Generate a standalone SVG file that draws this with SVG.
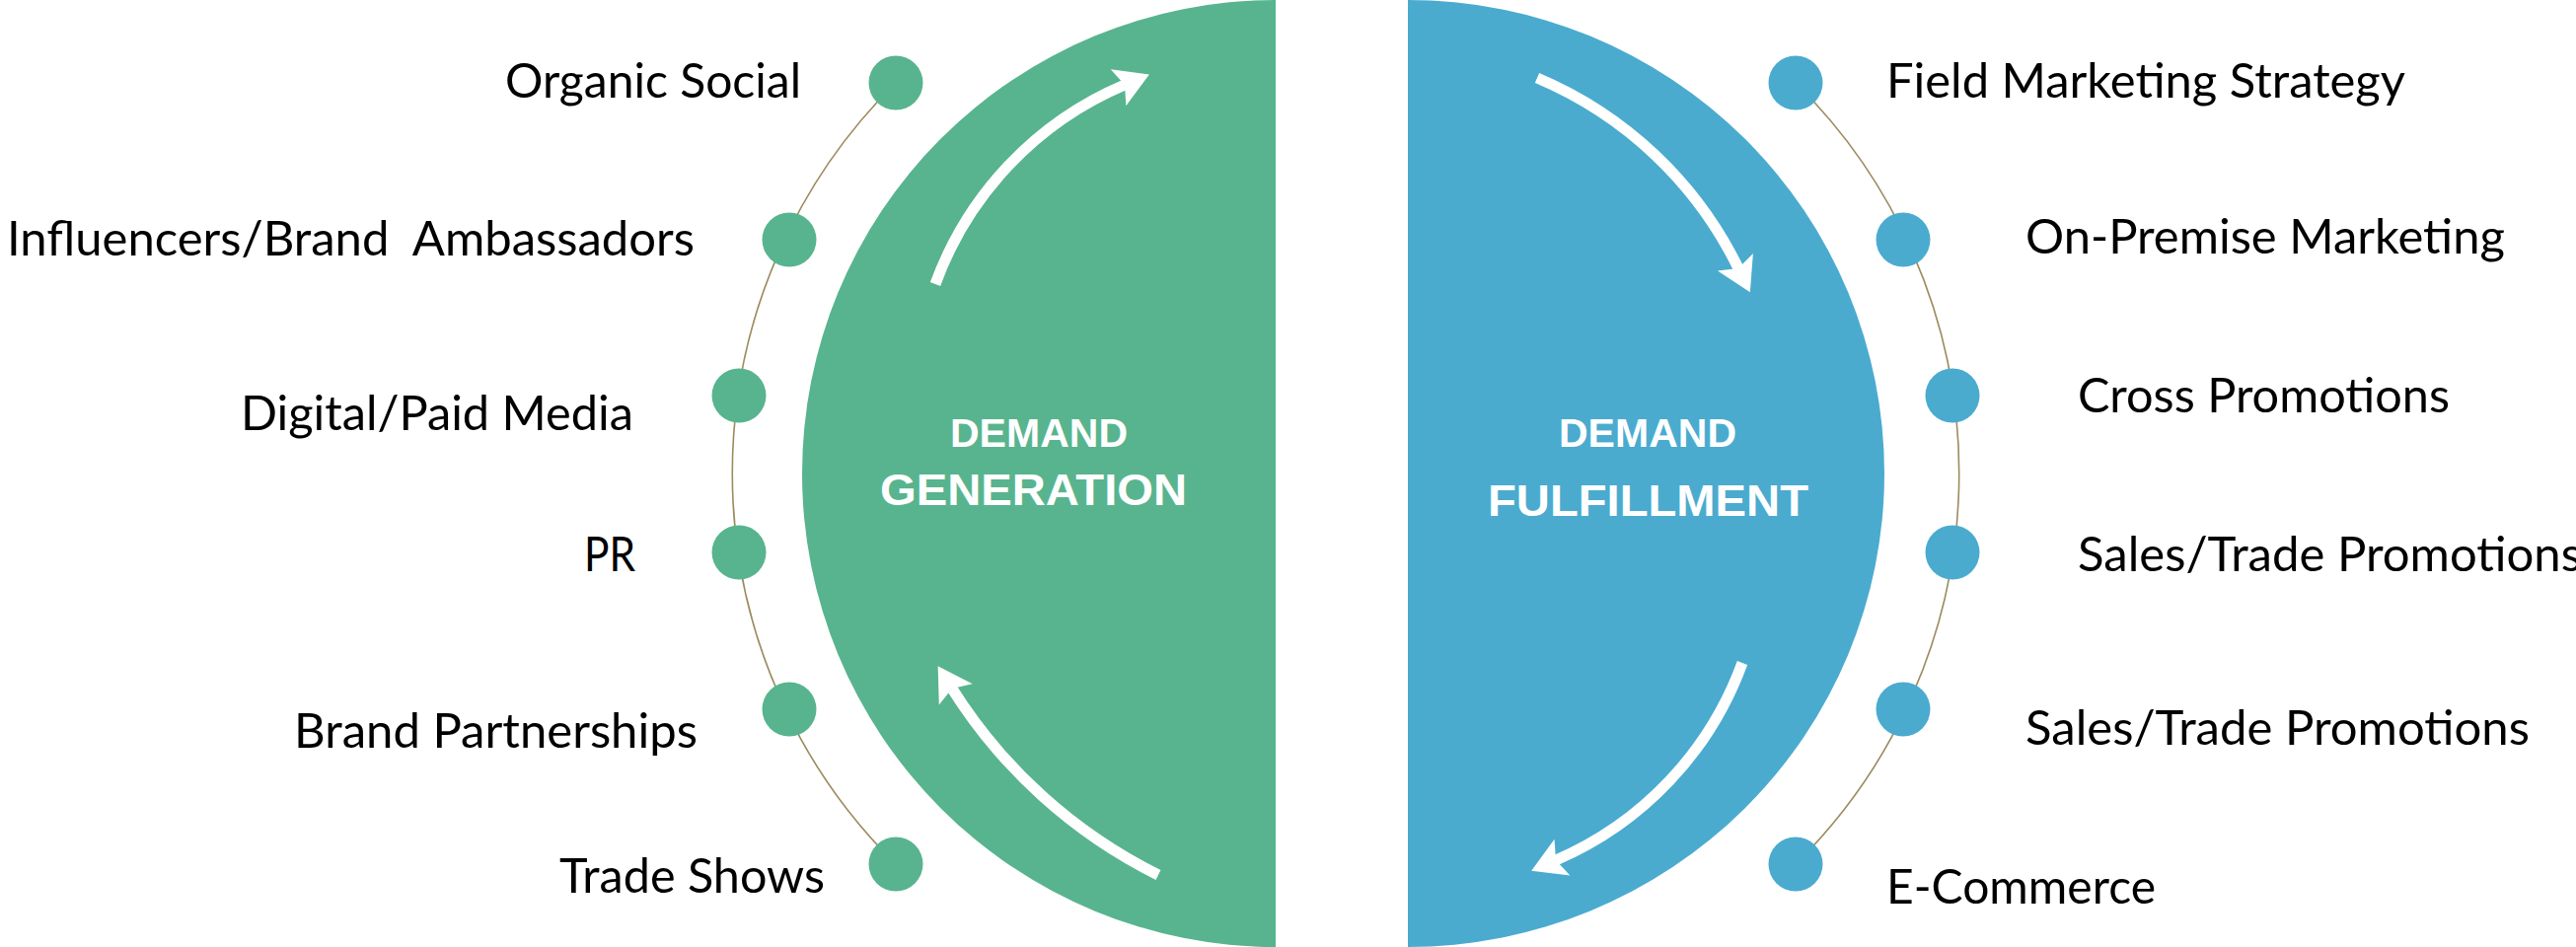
<svg xmlns="http://www.w3.org/2000/svg" width="2611" height="960" viewBox="0 0 2611 960">
<style>
.bg{fill:#ffffff}
.g{fill:#58B48E}
.b{fill:#4AABCF}
.track{fill:none;stroke:#9C8B5E;stroke-width:1.6}
.arr{fill:none;stroke:#ffffff;stroke-width:11}
.lbl{font-family:Lato,"Liberation Sans",sans-serif;font-size:49px;fill:#000000;white-space:pre}
.h1{font-family:"Liberation Sans",Arial,sans-serif;font-weight:bold;font-size:40px;fill:#ffffff}
.h2{font-family:"Liberation Sans",Arial,sans-serif;font-weight:bold;font-size:44px;fill:#ffffff}
</style>
<defs>
<marker id="head" markerUnits="userSpaceOnUse" viewBox="-10 -24 44 48" refX="0" refY="0" markerWidth="44" markerHeight="48" orient="auto">
<path d="M-7,-20 L27,0 L-7,20 L0,0 Z" fill="#ffffff"/>
</marker>
</defs>
<rect class="bg" x="0" y="0" width="2611" height="960"/>
<g id="demand-generation">
<path class="g" d="M1293,0 A480,480 0 0 0 1293,960 Z"/>
<text class="h1" x="963" y="453" textLength="180" lengthAdjust="spacingAndGlyphs">DEMAND</text>
<text class="h2" x="892" y="512" textLength="311" lengthAdjust="spacingAndGlyphs">GENERATION</text>
</g>
<g id="demand-fulfillment">
<path class="b" d="M1427,0 A483,480 0 0 1 1427,960 Z"/>
<text class="h1" x="1580" y="453" textLength="180" lengthAdjust="spacingAndGlyphs">DEMAND</text>
<text class="h2" x="1508" y="523" textLength="325" lengthAdjust="spacingAndGlyphs">FULFILLMENT</text>
</g>
<g id="connectors">
<path class="track" d="M908,84 A556,556 0 0 0 908,876"/>
<path class="track" d="M1820,84 A556,556 0 0 1 1820,876"/>
<path class="arr" marker-end="url(#head)" d="M948,288 A349,349 0 0 1 1140,86"/>
<path class="arr" marker-end="url(#head)" d="M1174,887 A520,520 0 0 1 965,698"/>
<path class="arr" marker-end="url(#head)" d="M1558,79 A400,400 0 0 1 1762,272"/>
<path class="arr" marker-end="url(#head)" d="M1766,672 A347,347 0 0 1 1577,872"/>
</g>
<g id="organic-social"><circle class="g" cx="908" cy="84" r="27.5"/><text class="lbl" x="512" y="99" textLength="300" lengthAdjust="spacingAndGlyphs">Organic Social</text></g>
<g id="influencers"><circle class="g" cx="800" cy="243" r="27.5"/><text class="lbl" x="7" y="259" textLength="697" lengthAdjust="spacingAndGlyphs">Influencers/Brand  Ambassadors</text></g>
<g id="digital-paid-media"><circle class="g" cx="749" cy="401" r="27.5"/><text class="lbl" x="244" y="436" textLength="398" lengthAdjust="spacingAndGlyphs">Digital/Paid Media</text></g>
<g id="pr"><circle class="g" cx="749" cy="560" r="27.5"/><text class="lbl" x="592" y="579" textLength="52" lengthAdjust="spacingAndGlyphs">PR</text></g>
<g id="brand-partnerships"><circle class="g" cx="800" cy="719" r="27.5"/><text class="lbl" x="298" y="758" textLength="409" lengthAdjust="spacingAndGlyphs">Brand Partnerships</text></g>
<g id="trade-shows"><circle class="g" cx="908" cy="876" r="27.5"/><text class="lbl" x="567" y="905" textLength="269" lengthAdjust="spacingAndGlyphs">Trade Shows</text></g>
<g id="field-marketing"><circle class="b" cx="1820" cy="84" r="27.5"/><text class="lbl" x="1912" y="99" textLength="526" lengthAdjust="spacingAndGlyphs">Field Marketing Strategy</text></g>
<g id="on-premise"><circle class="b" cx="1929" cy="243" r="27.5"/><text class="lbl" x="2053" y="257" textLength="486" lengthAdjust="spacingAndGlyphs">On-Premise Marketing</text></g>
<g id="cross-promotions"><circle class="b" cx="1979" cy="401" r="27.5"/><text class="lbl" x="2106" y="418" textLength="377" lengthAdjust="spacingAndGlyphs">Cross Promotions</text></g>
<g id="sales-trade-1"><circle class="b" cx="1979" cy="560" r="27.5"/><text class="lbl" x="2106" y="579" textLength="511" lengthAdjust="spacingAndGlyphs">Sales/Trade Promotions</text></g>
<g id="sales-trade-2"><circle class="b" cx="1929" cy="719" r="27.5"/><text class="lbl" x="2053" y="755" textLength="511" lengthAdjust="spacingAndGlyphs">Sales/Trade Promotions</text></g>
<g id="e-commerce"><circle class="b" cx="1820" cy="876" r="27.5"/><text class="lbl" x="1912" y="916" textLength="273" lengthAdjust="spacingAndGlyphs">E-Commerce</text></g>
</svg>
